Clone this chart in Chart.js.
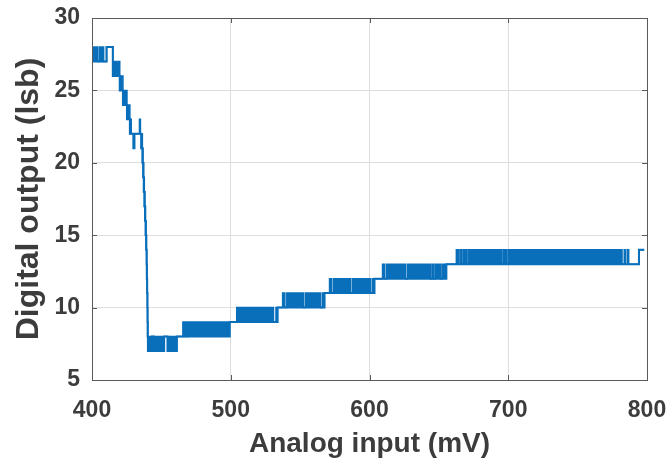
<!DOCTYPE html>
<html>
<head>
<meta charset="utf-8">
<script src="https://cdn.jsdelivr.net/npm/chart.js@4.4.1/dist/chart.umd.min.js"></script>
<style>
  html, body { margin: 0; padding: 0; background: #ffffff; }
  #wrap { width: 672px; height: 473px; }
</style>
</head>
<body>
<div id="wrap"><canvas id="c" width="672" height="473"></canvas></div>
<script>
// Breakpoints of the analog input (mV); on [bpX[i], bpX[i+1]) the output code toggles between lowLevel[i] and highLevel[i]
const bpX = [400, 404.0, 405.3, 407.0, 407.8, 408.4, 410.5, 415, 420, 422.3, 425.2, 427.3, 428.3, 429.8, 430.6, 434.2, 434.9,
  435.4, 436.3, 436.8, 437.3, 437.7, 438.2, 438.6, 439.0, 439.3, 439.5, 439.7, 439.9, 440.0, 440.1, 440.3,
  443.2, 444.6, 452.0, 454.4, 461.2, 465.5, 466.5, 467.4, 468.4, 469.4, 499.3, 504.3, 530.8, 532.6, 533.8,
  537.4, 539.0, 540.4, 552.6, 554.0, 564.9, 566.3, 567.6, 571.2, 572.8, 574.2, 586.5, 587.9, 600.8, 602.2,
  603.6, 609.4, 610.9, 612.3, 626.0, 627.4, 644.0, 645.2, 646.2, 647.4, 651.2, 652.4, 655.4, 662.6, 664.2,
  665.4, 666.4, 667.6, 670.0, 671.2, 695.2, 696.4, 698.8, 700.0, 782.0, 783.6, 784.4, 785.8, 786.8, 789.2,
  794.2, 798];
const lowLevel = [27, 27, 27, 27, 27, 27, 28, 26, 25, 24, 23, 22, 22, 21, 22, 22, 22,
  21, 20, 19, 18, 17, 16, 15, 14, 13, 12, 11, 10, 9, 8, 7,
  8, 7, 8, 7, 8, 8, 8, 8, 8, 8, 9, 9, 9, 9, 10,
  10, 10, 10, 10, 10, 10, 10, 11, 11, 11, 11, 11, 11, 11, 11,
  12, 12, 12, 12, 12, 12, 12, 12, 12, 12, 12, 12, 13, 13, 13,
  13, 13, 13, 13, 13, 13, 13, 13, 13, 13, 13, 13, 13, 13, 13,
  14, 14];
const highLevel = [28, 27, 28, 27, 28, 27, 28, 27, 26, 25, 24, 23, 22, 22, 22, 23, 22,
  22, 21, 20, 19, 18, 17, 16, 15, 14, 13, 12, 11, 10, 9, 8,
  8, 8, 8, 8, 8, 9, 8, 9, 8, 9, 9, 10, 9, 10, 10,
  11, 10, 11, 10, 11, 10, 11, 11, 12, 11, 12, 11, 12, 11, 12,
  12, 13, 12, 13, 12, 13, 12, 13, 12, 13, 12, 13, 13, 14, 13,
  14, 13, 14, 13, 14, 13, 14, 13, 14, 13, 14, 13, 14, 13, 13,
  14, 14];
const xTicks = [400, 500, 600, 700, 800];
const yTicks = [5, 10, 15, 20, 25, 30];

const lineColor = '#0a6fbb';
const textColor = '#3c3c3c';
const fontFamily = 'Arial, "Liberation Sans", Helvetica, sans-serif';

const lowData = bpX.map((x, i) => ({ x: x, y: lowLevel[i] }));
const highData = bpX.map((x, i) => ({ x: x, y: highLevel[i] }));

const framePlugin = {
  id: 'frame',
  afterDatasetsDraw(chart) {
    const { ctx, chartArea: a, scales } = chart;
    ctx.save();
    ctx.strokeStyle = '#5a5a5a';
    ctx.lineWidth = 1;
    ctx.beginPath();
    xTicks.forEach(v => {
      const px = Math.round(scales.x.getPixelForValue(v)) + 0.5;
      ctx.moveTo(px, a.bottom); ctx.lineTo(px, a.bottom - 5);
      ctx.moveTo(px, a.top); ctx.lineTo(px, a.top + 5);
    });
    yTicks.forEach(v => {
      const py = Math.round(scales.y.getPixelForValue(v)) + 0.5;
      ctx.moveTo(a.left, py); ctx.lineTo(a.left + 5, py);
      ctx.moveTo(a.right, py); ctx.lineTo(a.right - 5, py);
    });
    ctx.stroke();
    ctx.strokeRect(Math.round(a.left) + 0.5, Math.round(a.top) + 0.5,
      Math.round(a.right - a.left), Math.round(a.bottom - a.top));
    ctx.restore();
  }
};

new Chart(document.getElementById('c'), {
  type: 'line',
  data: {
    datasets: [
      {
        label: 'low',
        data: lowData,
        stepped: 'before',
        borderColor: lineColor,
        borderWidth: 2,
        pointRadius: 0,
        fill: false
      },
      {
        label: 'high',
        data: highData,
        stepped: 'before',
        borderColor: lineColor,
        backgroundColor: lineColor,
        borderWidth: 1.5,
        pointRadius: 0,
        fill: '-1'
      }
    ]
  },
  options: {
    responsive: false,
    animation: false,
    devicePixelRatio: 1,
    layout: { padding: { left: 0, top: 18, right: 25, bottom: 0 } },
    plugins: {
      legend: { display: false },
      tooltip: { enabled: false },
      filler: { propagate: false }
    },
    scales: {
      x: {
        type: 'linear',
        min: 400, max: 800,
        afterFit: s => { s.height = 93; s.paddingLeft = 0; s.paddingRight = 0; },
        afterBuildTicks: s => { s.ticks = xTicks.map(v => ({ value: v })); },
        grid: { color: '#dedede', lineWidth: 1, drawTicks: false },
        border: { display: false },
        ticks: { color: textColor, font: { family: fontFamily, size: 23, weight: 'bold' }, padding: 17, maxRotation: 0 },
        title: { display: true, text: 'Analog input (mV)', color: textColor,
          font: { family: fontFamily, size: 28, weight: 'bold' }, padding: { top: 0, bottom: 12 } }
      },
      y: {
        type: 'linear',
        min: 5, max: 30,
        afterFit: s => { s.width = 92; s.paddingTop = 0; s.paddingBottom = 0; },
        afterBuildTicks: s => { s.ticks = yTicks.map(v => ({ value: v })); },
        grid: { color: '#dedede', lineWidth: 1, drawTicks: false },
        border: { display: false },
        ticks: { color: textColor, font: { family: fontFamily, size: 23, weight: 'bold' }, padding: 12 },
        title: { display: true, text: 'Digital output (lsb)', color: textColor,
          font: { family: fontFamily, size: 32, weight: 'bold' }, padding: { top: 10, bottom: 0 } }
      }
    }
  },
  plugins: [framePlugin]
});
</script>
</body>
</html>
